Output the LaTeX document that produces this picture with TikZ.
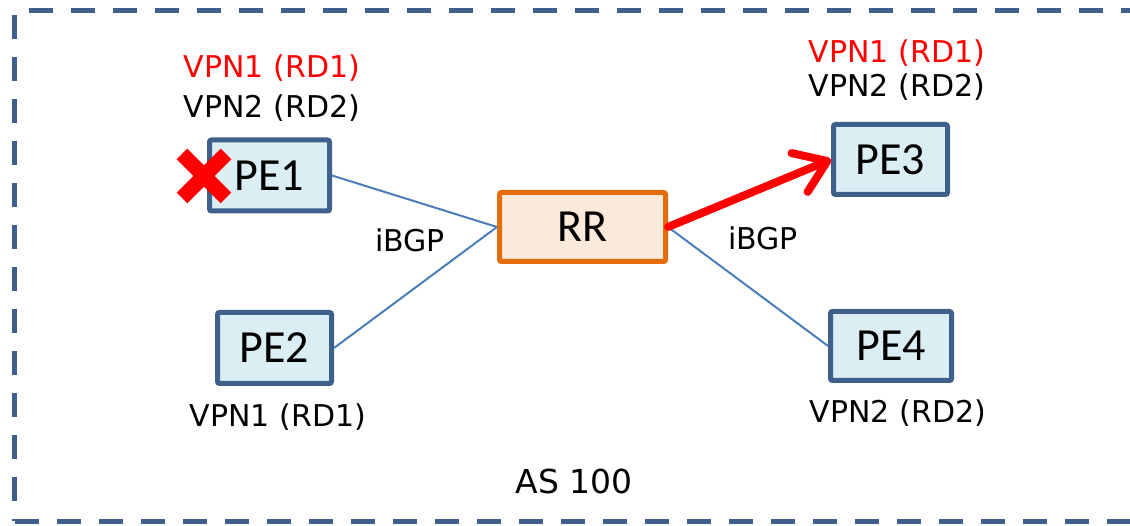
\documentclass[tikz,border=0pt]{standalone}
\usepackage{fontspec}
\setmainfont{DejaVu Sans}
\newfontfamily\boxfont{Carlito}
\usetikzlibrary{arrows.meta}
\definecolor{peborder}{RGB}{64,96,140}
\definecolor{pefill}{RGB}{218,238,243}
\definecolor{rrborder}{RGB}{228,108,10}
\definecolor{rrfill}{RGB}{253,233,217}
\definecolor{linkblue}{RGB}{74,126,187}
\definecolor{alertred}{RGB}{255,0,0}
\tikzset{
  pebox/.style={draw=peborder, fill=pefill, line width=5pt, rounded corners=2pt,
    minimum height=71pt, inner sep=0pt, font=\boxfont\fontsize{46}{50}\selectfont},
  rrbox/.style={draw=rrborder, fill=rrfill, line width=5pt, rounded corners=2pt,
    minimum width=166pt, minimum height=69pt, inner sep=0pt, font=\boxfont\fontsize{46}{50}\selectfont},
  lbl/.style={anchor=base, inner sep=0pt, font=\fontsize{30}{36}\selectfont},
  link/.style={draw=linkblue, line width=2pt},
  redarrow/.style={draw=alertred, line width=8pt, line cap=round,
    -{Straight Barb[length=30pt, width=42pt, round]}},
  border/.style={draw=peborder, line width=5pt, dash pattern=on 24pt off 18pt},
}
\begin{document}
\begin{tikzpicture}[x=1pt, y=-1pt]
\useasboundingbox (0,0) rectangle (1130,526);
% dashed AS frame
\coordinate (tl) at (14,11);
\coordinate (tr) at (1145,11);
\coordinate (bl) at (14,521);
\coordinate (br) at (1145,521);
\draw[border, dash phase=27pt] (tl) -- (tr);
\draw[border, dash phase=38pt] (tl) -- (bl);
\draw[border, dash phase=41pt] (bl) -- (br);
% nodes
\node[pebox, minimum width=120pt] (PE1) at (269.5,175.5) {PE1};
\node[pebox, minimum width=114pt] (PE2) at (274.5,348) {PE2};
\node[pebox, minimum width=114pt, minimum height=70pt] (PE3) at (890.5,159.5) {PE3};
\node[pebox, minimum width=121pt, minimum height=69pt] (PE4) at (891,346) {PE4};
\node[rrbox] (RR) at (582.5,227) {RR};
% links
\draw[link] (PE1.east) -- (RR.west);
\draw[link] (PE2.east) -- (RR.west);
\draw[link] (RR.east) -- (PE4.west);
\draw[redarrow] (RR.east) -- (PE3.west);
% red cross on PE1
\coordinate (X) at (204,176);
\draw[alertred, line width=15pt] ([shift={(-22,-22)}]X) -- ([shift={(22,22)}]X);
\draw[alertred, line width=15pt] ([shift={(-22,22)}]X) -- ([shift={(22,-22)}]X);
% labels
\node[lbl, text=alertred] (l1a) at (272,78) {VPN1 (RD1)};
\node[lbl] (l1b) at (272,118) {VPN2 (RD2)};
\node[lbl, text=alertred] (l3a) at (897,63) {VPN1 (RD1)};
\node[lbl] (l3b) at (897,97) {VPN2 (RD2)};
\node[lbl] (l2) at (278,427) {VPN1 (RD1)};
\node[lbl] (l4) at (898,423) {VPN2 (RD2)};
\node[lbl] (ibgp1) at (410,252) {iBGP};
\node[lbl] (ibgp2) at (763,250) {iBGP};
\node[lbl, font=\fontsize{33}{38}\selectfont] (as) at (574,493) {AS 100};
\end{tikzpicture}
\end{document}
